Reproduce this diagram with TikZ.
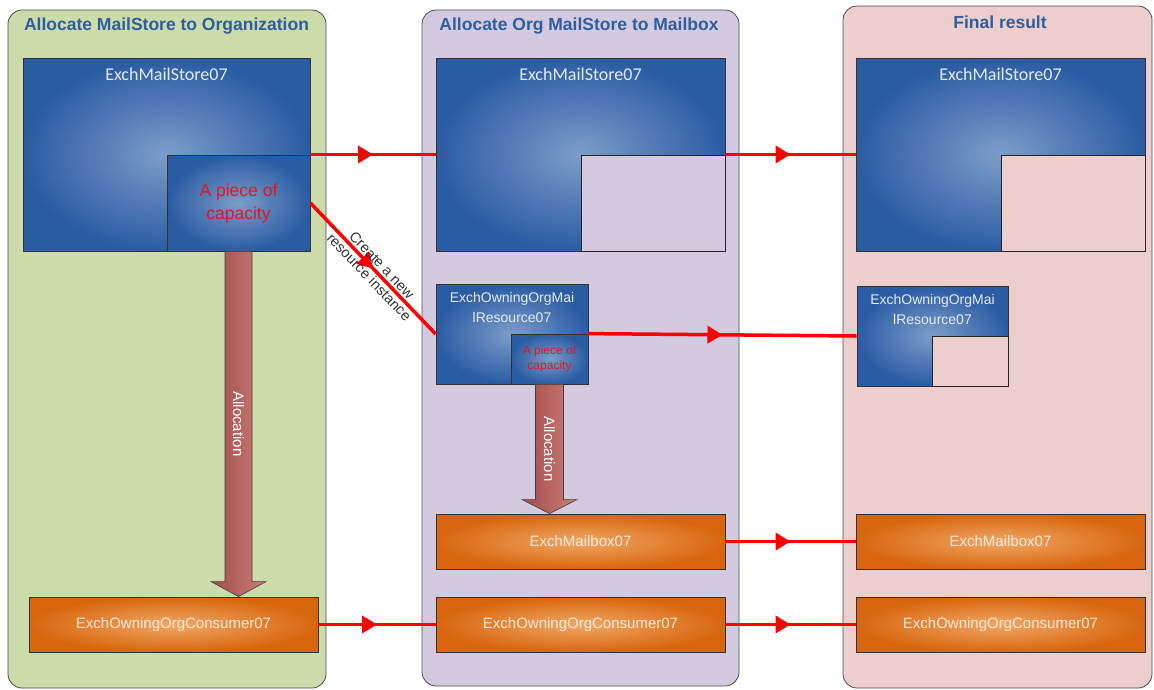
\documentclass[tikz,border=0pt]{standalone}
\usepackage{fontspec}
\setmainfont{Liberation Sans}
\newfontfamily\calib{Carlito}
\usetikzlibrary{arrows.meta,decorations.markings,calc}
\definecolor{pgreen}{HTML}{CBDBA9}
\definecolor{ppurple}{HTML}{D3CADF}
\definecolor{ppink}{HTML}{ECCFCC}
\definecolor{titleblue}{HTML}{2F5F9E}
\definecolor{boxblue}{HTML}{2A5CA4}
\definecolor{boxlight}{HTML}{7C9DC8}
\definecolor{orangeout}{HTML}{D8660E}
\definecolor{orangein}{HTML}{F0A866}
\definecolor{arrowdark}{HTML}{A24C4C}
\definecolor{arrowlight}{HTML}{CC7D76}
\definecolor{capred}{HTML}{E8141E}
\definecolor{labelgray}{HTML}{333333}
\definecolor{boxtext}{HTML}{E4E9F1}
\definecolor{orangetext}{HTML}{F7E8DA}
\tikzset{
  panel/.style={rectangle, draw=black!70, line width=0.8pt, rounded corners=14pt, inner sep=0pt},
  paneltitle/.style={font=\fontsize{17.5}{20}\selectfont\bfseries, text=titleblue, inner sep=0pt},
  bluebox/.style={rectangle, draw=black!80, line width=0.8pt, inner color=boxlight, outer color=boxblue, inner sep=0pt},
  emptybox/.style={rectangle, draw=black!85, line width=0.8pt, inner sep=0pt},
  storelabel/.style={font=\calib\fontsize{18}{20}\selectfont, text=boxtext, inner sep=0pt},
  reslabel/.style={font=\fontsize{14}{20}\selectfont, text=boxtext, align=center, inner sep=0pt},
  piecebig/.style={font=\fontsize{17.5}{23}\selectfont, text=capred, align=center},
  piecesmall/.style={font=\fontsize{12}{15}\selectfont, text=capred, align=center},
  orangebox/.style={rectangle, draw=black!80, line width=0.8pt, inner color=orangein, outer color=orangeout, font=\fontsize{15}{18}\selectfont, text=orangetext, inner sep=0pt},
  redarrow/.style={draw=red, line width=3.5pt, postaction={decorate},
    decoration={markings, mark=at position 0.5 with {\arrow{Triangle[length=15pt,width=17pt]}}}},
  bigarrow/.style={draw=black!75, line width=0.6pt, left color=arrowdark, right color=arrowlight},
  alloclabel/.style={font=\fontsize{15}{18}\selectfont, text=white, rotate=-90, inner sep=0pt},
  difflabel/.style={font=\fontsize{14.5}{17.5}\selectfont, text=labelgray, align=center, inner sep=0pt}
}
\begin{document}
\begin{tikzpicture}[x=1pt,y=-1pt]
\useasboundingbox (0,0) rectangle (1154,689);
% panels
\node[panel, fill=pgreen, minimum width=318pt, minimum height=678pt] (lpanel) at (167,349) {};
\node[panel, fill=ppurple, minimum width=317pt, minimum height=676pt] (mpanel) at (580.5,348) {};
\node[panel, fill=ppink, minimum width=309pt, minimum height=682pt] (rpanel) at (997.5,347) {};
\node[paneltitle] (ltitle) at (166.5,26) {Allocate MailStore to Organization};
\node[paneltitle] (mtitle) at (579,26) {Allocate Org MailStore to Mailbox};
\node[paneltitle] (rtitle) at (1000,22) {Final result};
% mail stores
\node[bluebox, minimum width=287pt, minimum height=193pt] (lstore) at (166.5,154.5) {};
\node[bluebox, minimum width=289pt, minimum height=193pt] (mstore) at (580.5,154.5) {};
\node[bluebox, minimum width=289pt, minimum height=193pt] (rstore) at (1000.5,154.5) {};
\node[storelabel] (lstorel) at ([yshift=-17pt]lstore.north) {ExchMailStore07};
\node[storelabel] (mstorel) at ([yshift=-17pt]mstore.north) {ExchMailStore07};
\node[storelabel] (rstorel) at ([yshift=-17pt]rstore.north) {ExchMailStore07};
\node[bluebox, minimum width=143pt, minimum height=96pt, piecebig] (lpiece) at (238.5,203) {A piece of\\capacity};
\node[emptybox, fill=ppurple, minimum width=144pt, minimum height=96pt] (mempty) at (653,203) {};
\node[emptybox, fill=ppink, minimum width=144pt, minimum height=96pt] (rempty) at (1073,203) {};
% resources
\node[bluebox, minimum width=152pt, minimum height=100pt] (mres) at (512,334) {};
\node[reslabel] (mresl) at ([yshift=-24pt]mres.north) {ExchOwningOrgMai\\lResource07};
\node[bluebox, minimum width=77pt, minimum height=50pt, piecesmall, inner sep=0pt] (mpiece) at (549.5,359) {A piece of\\capacity};
\node[bluebox, minimum width=151pt, minimum height=100pt] (rres) at (932.5,336) {};
\node[reslabel] (rresl) at ([yshift=-24pt]rres.north) {ExchOwningOrgMai\\lResource07};
\node[emptybox, fill=ppink, minimum width=76pt, minimum height=50pt] (rempty2) at (970,361) {};
% orange boxes
\node[orangebox, minimum width=289pt, minimum height=55pt] (lcons) at (173.5,624.5) {ExchOwningOrgConsumer07};
\node[orangebox, minimum width=289pt, minimum height=55pt] (mmail) at (580.5,541.5) {ExchMailbox07};
\node[orangebox, minimum width=289pt, minimum height=55pt] (mcons) at (580.5,624.5) {ExchOwningOrgConsumer07};
\node[orangebox, minimum width=289pt, minimum height=55pt] (rmail) at (1000.5,541.5) {ExchMailbox07};
\node[orangebox, minimum width=289pt, minimum height=55pt] (rcons) at (1000.5,624.5) {ExchOwningOrgConsumer07};
% big allocation arrows
\coordinate (ltop) at (lpiece.south);
\coordinate (ltip) at (lpiece.south |- lcons.north);
\path[bigarrow] ([xshift=-13.5pt]ltop) -- ([xshift=13.5pt]ltop) -- ([xshift=13.5pt,yshift=15pt]ltip) -- ([xshift=27.5pt,yshift=15pt]ltip) -- (ltip) -- ([xshift=-27.5pt,yshift=15pt]ltip) -- ([xshift=-13.5pt,yshift=15pt]ltip) -- cycle;
\node[alloclabel] (lalloc) at ($(ltop)!0.5!(ltip)$) {Allocation};
\coordinate (mtop) at (mpiece.south);
\coordinate (mtip) at (mpiece.south |- mmail.north);
\path[bigarrow] ([xshift=-14pt]mtop) -- ([xshift=14pt]mtop) -- ([xshift=14pt,yshift=14pt]mtip) -- ([xshift=27.5pt,yshift=14pt]mtip) -- (mtip) -- ([xshift=-27.5pt,yshift=14pt]mtip) -- ([xshift=-14pt,yshift=14pt]mtip) -- cycle;
\node[alloclabel] (malloc) at ($(mtop)!0.5!(mtip)$) {Allocation};
% red arrows
\draw[redarrow] (lstore.east) -- (mstore.west);
\draw[redarrow] (mstore.east) -- (rstore.west);
\draw[redarrow] (lpiece.east) -- node[difflabel, sloped, pos=0.52] (createl) {Create a new\\resource instance} (mres.west);
\draw[redarrow] (mpiece.north east) -- (rres.west);
\draw[redarrow] (mmail.east) -- (rmail.west);
\draw[redarrow] (lcons.east) -- (mcons.west);
\draw[redarrow] (mcons.east) -- (rcons.west);
\end{tikzpicture}
\end{document}
